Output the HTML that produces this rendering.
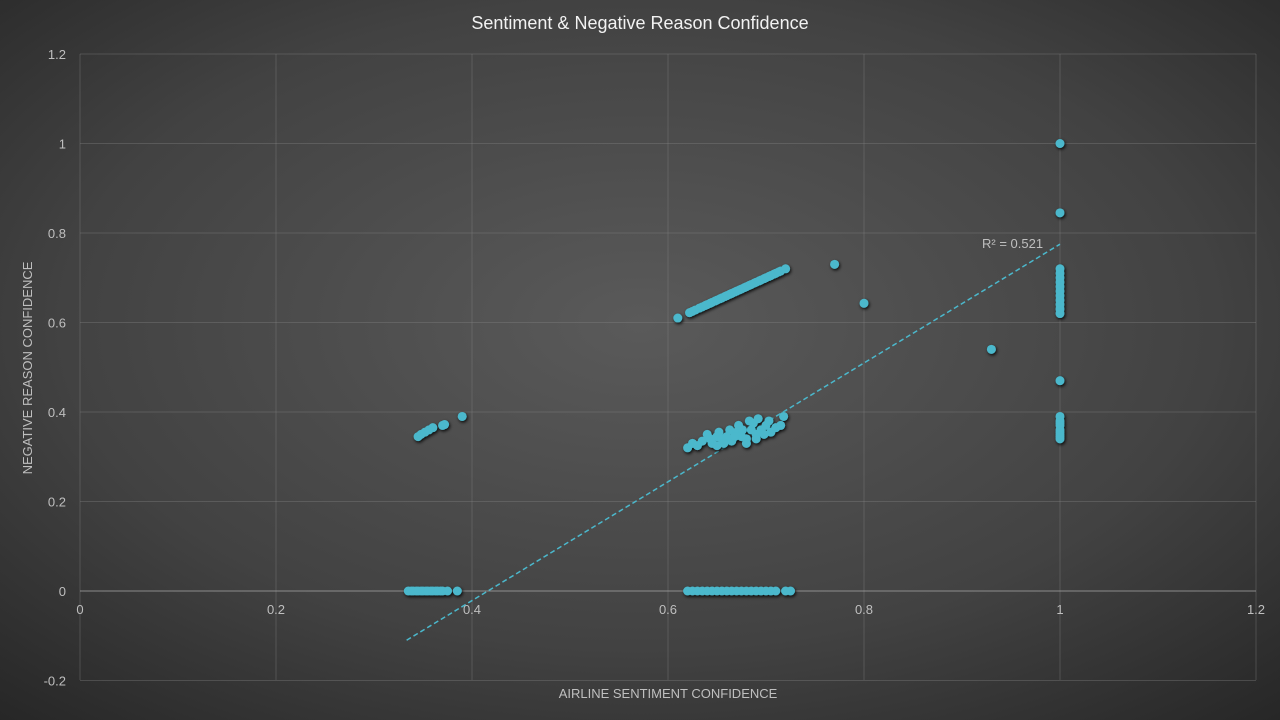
<!DOCTYPE html>
<html><head><meta charset="utf-8"><style>
html,body{margin:0;padding:0;width:1280px;height:720px;overflow:hidden;background:#333}
svg{display:block}
text{font-family:"Liberation Sans",sans-serif}
</style></head><body>
<svg id="chart" width="1280" height="720">
<defs>
<radialGradient id="bg" cx="50%" cy="45%" r="75%">
<stop offset="0" stop-color="#5a5a5a"/><stop offset="0.6" stop-color="#424242"/><stop offset="1" stop-color="#262626"/>
</radialGradient>
<filter id="sh" x="-50%" y="-50%" width="200%" height="200%"><feDropShadow dx="1" dy="1.5" stdDeviation="1.5" flood-color="#000" flood-opacity="0.9"/></filter>
</defs>
<rect width="1280" height="720" fill="url(#bg)"/>
<text x="640" y="29" text-anchor="middle" fill="#f2f2f2" font-size="18">Sentiment &amp; Negative Reason Confidence</text>
<g id="grid"></g><g id="axes"></g><g id="trend"></g><g id="pts" filter="url(#sh)"></g>
<text x="668" y="698" text-anchor="middle" fill="#bfbfbf" font-size="13">AIRLINE SENTIMENT CONFIDENCE</text>
<text transform="translate(32,368) rotate(-90)" text-anchor="middle" fill="#bfbfbf" font-size="13">NEGATIVE  REASON CONFIDENCE</text>
<text x="982" y="248" fill="#bfbfbf" font-size="13">R² = 0.521</text>
</svg>
<script>
const xTicks=[0,0.2,0.4,0.6,0.8,1,1.2];
const yTicks=[-0.2,0,0.2,0.4,0.6,0.8,1,1.2];
const xTickLabels=["0","0.2","0.4","0.6","0.8","1","1.2"];
const yTickLabels=["-0.2","0","0.2","0.4","0.6","0.8","1","1.2"];
const ptsX=[0.61,0.622,0.625,0.628,0.632,0.635,0.638,0.64,0.643,0.645,0.648,0.65,0.653,0.655,0.658,0.66,0.663,0.665,0.668,0.67,0.673,0.675,0.678,0.68,0.683,0.685,0.688,0.69,0.693,0.695,0.698,0.70,0.703,0.705,0.708,0.71,0.713,0.715,0.72,
0.62,0.625,0.63,0.635,0.64,0.645,0.65,0.652,0.655,0.66,0.663,0.665,0.67,0.672,0.675,0.68,0.683,0.685,0.69,0.692,0.695,0.70,0.703,0.705,0.71,0.715,0.718,0.66,0.67,0.68,0.687,0.65,0.676,0.643,0.657,0.668,0.69,0.698,
0.345,0.348,0.352,0.356,0.36,0.37,0.372,0.39,
0.335,0.338,0.34,0.343,0.345,0.348,0.35,0.353,0.355,0.358,0.36,0.363,0.365,0.368,0.37,0.375,0.385,
0.62,0.625,0.63,0.635,0.64,0.645,0.65,0.655,0.66,0.665,0.67,0.675,0.68,0.685,0.69,0.695,0.70,0.705,0.71,0.72,0.725,
1,1,1,1,1,1,1,1,1,1,1,1,1,1,1,1,1,1,1,1,1,1,1,
0.77,0.8,0.93];
const ptsY=[0.61,0.622,0.625,0.628,0.632,0.635,0.638,0.64,0.643,0.645,0.648,0.65,0.653,0.655,0.658,0.66,0.663,0.665,0.668,0.67,0.673,0.675,0.678,0.68,0.683,0.685,0.688,0.69,0.693,0.695,0.698,0.70,0.703,0.705,0.708,0.71,0.713,0.715,0.72,
0.32,0.33,0.325,0.335,0.35,0.33,0.345,0.355,0.34,0.34,0.36,0.335,0.35,0.37,0.345,0.34,0.38,0.36,0.35,0.385,0.36,0.37,0.38,0.355,0.365,0.37,0.39,0.345,0.355,0.33,0.375,0.325,0.36,0.34,0.33,0.345,0.34,0.35,
0.345,0.35,0.355,0.36,0.365,0.37,0.372,0.39,
0,0,0,0,0,0,0,0,0,0,0,0,0,0,0,0,0,
0,0,0,0,0,0,0,0,0,0,0,0,0,0,0,0,0,0,0,0,0,
1,0.845,0.72,0.71,0.70,0.69,0.68,0.67,0.66,0.65,0.64,0.63,0.62,0.47,0.39,0.38,0.375,0.37,0.36,0.355,0.35,0.345,0.34,
0.73,0.643,0.54];
const trendX=[0.3333,1];
const trendY=[-0.11,0.775];
const X=v=>80+v*980, Y=v=>591-v*447.5;
const ns="http://www.w3.org/2000/svg";
function mk(t,a,p){const e=document.createElementNS(ns,t);for(const k in a)e.setAttribute(k,a[k]);p.appendChild(e);return e;}
const grid=document.getElementById('grid'),axes=document.getElementById('axes');
xTicks.forEach((v,i)=>{
 const l=mk('line',{x1:X(v),x2:X(v),y1:54,y2:680,stroke:'#888','stroke-opacity':0.35,'stroke-width':1},grid);
 
 
 const t=mk('text',{x:X(v),y:614,'text-anchor':'middle',fill:'#bfbfbf','font-size':13},axes);
 t.textContent=xTickLabels[i];
 
 
});
yTicks.forEach((v,i)=>{
 const l=mk('line',{x1:80,x2:1256,y1:Y(v),y2:Y(v),stroke:v===0?'#a0a0a0':'#888','stroke-opacity':v===0?0.8:0.35,'stroke-width':1},grid);
 
 
 const t=mk('text',{x:66,y:Y(v)+5,'text-anchor':'end',fill:'#bfbfbf','font-size':13},axes);
 t.textContent=yTickLabels[i];
 
 
});
const tl=mk('line',{x1:X(trendX[0]),y1:Y(trendY[0]),x2:X(trendX[1]),y2:Y(trendY[1]),stroke:'#4bb8cc','stroke-width':1.5,'stroke-dasharray':'5,3'},document.getElementById('trend'));


const pg=document.getElementById('pts');
ptsX.forEach((x,i)=>{
 const c=mk('circle',{cx:X(x),cy:Y(ptsY[i]),r:4.5,fill:'#4bb8cc'},pg);
 
 
});
</script>
</body></html>
